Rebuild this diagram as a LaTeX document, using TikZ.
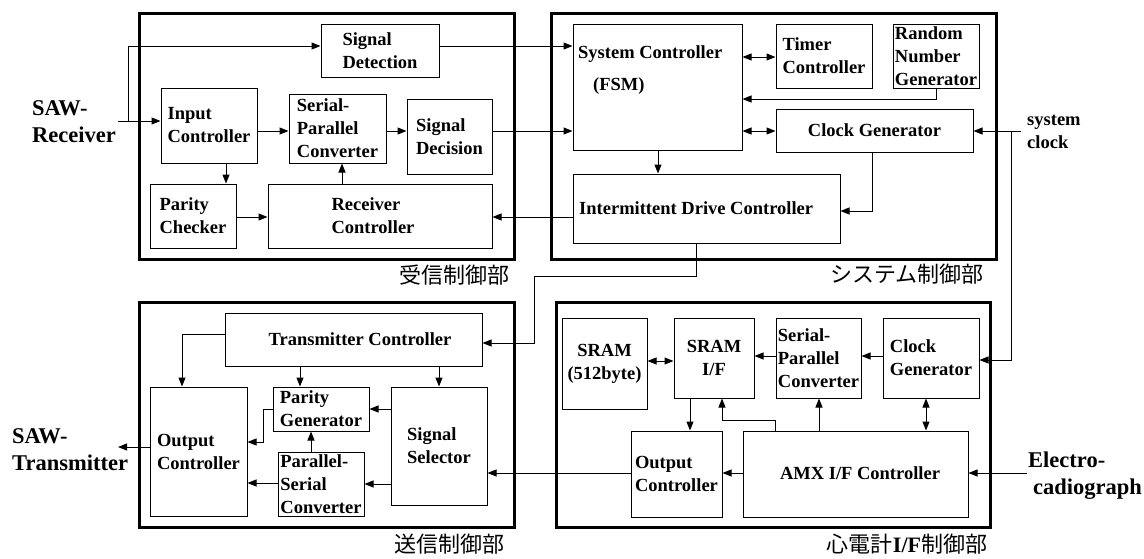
\documentclass[tikz,border=0pt]{standalone}
\usepackage{fontspec}
\setmainfont{Liberation Serif}
\newfontfamily\jp{Noto Sans CJK JP}
\usetikzlibrary{arrows.meta}
\newcommand{\mkbox}[7][]{\node[box,#1,minimum width={#5pt-#3pt},minimum height={#6pt-#4pt}] (#2) at ({(#3+#5)/2},{(#4+#6)/2}) {#7};}
\begin{document}
\begin{tikzpicture}[x=1pt,y=-1pt,
  box/.style={draw, line width=1pt, inner sep=0pt, align=left, font=\bfseries\fontsize{18.5}{23}\selectfont},
  outerbox/.style={line width=3pt},
  txt/.style={inner sep=0pt, align=left, font=\bfseries\fontsize{18.5}{23}\selectfont},
  arr/.style={line width=1pt, -{Triangle[length=9pt,width=7pt]}},
  darr/.style={line width=1pt, {Triangle[length=9pt,width=7pt]}-{Triangle[length=9pt,width=7pt]}},
  ln/.style={line width=1pt},
  ext/.style={inner sep=0pt, align=left, font=\bfseries\fontsize{22.5}{27}\selectfont},
  jlab/.style={inner sep=0pt, font=\jp\fontsize{22}{22}\selectfont}
]
\useasboundingbox (0,0) rectangle (1144,558);
\fill[white] (0,0) rectangle (1144,558);

% outer blocks
\mkbox[outerbox]{rx}{139}{13}{514}{259}{}
\mkbox[outerbox]{sys}{551}{13}{996}{259}{}
\mkbox[outerbox]{tx}{139}{302}{514}{527}{}
\mkbox[outerbox]{ecg}{556}{302}{990}{527}{}

% receiver
\mkbox{sd}{321}{24}{439}{77}{Signal\\Detection}
\mkbox{ic}{161}{88}{257}{163}{Input\\Controller}
\mkbox{spc}{289}{94}{386}{163}{Serial-\\Parallel\\Converter}
\mkbox{sdec}{407}{99}{492}{174}{Signal\\Decision}
\mkbox{pc}{150}{184}{236}{248}{Parity\\Checker}
\mkbox{rc}{268}{184}{492}{248}{}
\node[txt] (rct) at (373,216) {Receiver\\Controller};

% system
\mkbox{sc}{573}{24}{742}{150}{}
\node[txt, anchor=base west] (sct) at (578,58) {System Controller};
\node[txt, anchor=base west] (fsm) at (593,90) {(FSM)};
\mkbox{tc}{776}{24}{872}{88}{Timer\\Controller}
\mkbox{rng}{893}{24}{979}{88}{Random\\Number\\Generator}
\mkbox{cg}{776}{109}{973}{152}{Clock Generator}
\mkbox{idc}{573}{174}{840}{243}{}
\node[txt, anchor=base west] (idct) at (579,214) {Intermittent Drive Controller};

% transmitter
\mkbox{txc}{225}{313}{482}{366}{}
\node[txt] (txct) at (360,339) {Transmitter Controller};
\mkbox{oc1}{150}{387}{247}{516}{Output\\Controller}
\mkbox{pg}{273}{387}{369}{431}{Parity\\Generator}
\mkbox{psc}{278}{452}{364}{516}{Parallel-\\Serial\\Converter}
\mkbox{ss}{391}{387}{487}{505}{Signal\\Selector}

% ECG interface
\mkbox[align=center]{sram}{562}{318}{647}{409}{SRAM\\(512byte)}
\mkbox[align=center]{sramif}{674}{318}{754}{398}{SRAM\\I/F}
\mkbox{oc2}{631}{431}{722}{517}{Output\\Controller}
\mkbox{amx}{743}{431}{968}{517}{}
\node[txt] (amxt) at (860,473) {AMX I/F Controller};
\mkbox{spc2}{776}{318}{861}{398}{Serial-\\Parallel\\Converter}
\mkbox{cg2}{883}{318}{979}{398}{Clock\\Generator}

% external labels
\node[ext, anchor=west] (saw1) at (32,121.5) {SAW-\\Receiver};
\node[ext, anchor=west] (saw2) at (12,450) {SAW-\\Transmitter};
\node[ext, anchor=west] (ecgt) at (1028,476) {Electro-\\\hspace*{5pt}cadiograph};
\node[txt, anchor=west] (sclk) at (1027,132) {system\\clock};

\node[jlab] (l1) at (454,275) {受信制御部};
\node[jlab] (l2) at (907,274) {システム制御部};
\node[jlab] (l3) at (449,544) {送信制御部};
\node[jlab] (l4) at (907,544) {心電計{\rmfamily\bfseries I/F}制御部};

% receiver connectors
\coordinate (sawin) at (118,121);
\coordinate (br) at (128,121);
\draw[arr] (sawin) -- (ic.west |- sawin);
\draw[arr] (br) |- (sd.west |- 0,46);
\draw[arr] (ic.east |- 0,131) -- (spc.west |- 0,131);
\draw[arr] (ic.south -| 226,0) -- (pc.north -| 226,0);
\draw[arr] (pc.east |- 0,217) -- (rc.west |- 0,217);
\draw[arr] (rc.north -| 342,0) -- (spc.south -| 342,0);
\draw[arr] (spc.east |- 0,131) -- (sdec.west |- 0,131);
\draw[arr] (sd.east |- 0,46) -- (sc.west |- 0,46);
\draw[arr] (sdec.east |- 0,131) -- (sc.west |- 0,131);

% system connectors
\draw[arr] (sc.south -| 658,0) -- (idc.north -| 658,0);
\draw[arr] (idc.west |- 0,217) -- (rc.east |- 0,217);
\draw[darr] (sc.east |- 0,57) -- (tc.west |- 0,57);
\draw[arr] (rng.south -| 936,0) |- (sc.east |- 0,99);
\draw[darr] (sc.east |- 0,131) -- (cg.west |- 0,131);
\draw[arr] (cg.south -| 872,0) |- (idc.east |- 0,211);
\coordinate (clkin) at (1021,131);
\coordinate (clkbr) at (1011,131);
\draw[arr] (clkin) -- (cg.east |- clkin);
\draw[arr] (clkbr) |- (cg2.east |- 0,360);
\draw[arr] (idc.south -| 696,0) -- (696,276) -- (534,276) -- (534,343) -- (txc.east |- 0,343);

% transmitter connectors
\draw[arr] (txc.west |- 0,334) -| (oc1.north -| 182,0);
\draw[arr] (txc.south -| 300,0) -- (pg.north -| 300,0);
\draw[arr] (txc.south -| 439,0) -- (ss.north -| 439,0);
\draw[arr] (ss.west |- 0,409) -- (pg.east |- 0,409);
\draw[arr] (ss.west |- 0,484) -- (psc.east |- 0,484);
\draw[arr] (psc.north -| 311,0) -- (pg.south -| 311,0);
\draw[arr] (pg.west |- 0,409) -- (263,409) |- (oc1.east |- 0,442);
\draw[arr] (psc.west |- 0,483) -- (oc1.east |- 0,483);
\coordinate (sawout) at (118,447);
\draw[arr] (oc1.west |- sawout) -- (sawout);

% ECG connectors
\draw[darr] (sram.east |- 0,361) -- (sramif.west |- 0,361);
\draw[arr] (sramif.south -| 690,0) -- (oc2.north -| 690,0);
\draw[arr] (amx.north -| 775,0) -- (775,420) -- (722,420) -- (sramif.south -| 722,0);
\draw[arr] (amx.west |- 0,473) -- (oc2.east |- 0,473);
\draw[arr] (oc2.west |- 0,473) -- (ss.east |- 0,473);
\draw[arr] (spc2.west |- 0,356) -- (sramif.east |- 0,356);
\draw[arr] (cg2.west |- 0,356) -- (spc2.east |- 0,356);
\draw[arr] (amx.north -| 819,0) -- (spc2.south -| 819,0);
\draw[darr] (cg2.south -| 926,0) -- (amx.north -| 926,0);
\coordinate (ecgin) at (1027,473);
\draw[arr] (ecgin) -- (amx.east |- ecgin);
\end{tikzpicture}
\end{document}
